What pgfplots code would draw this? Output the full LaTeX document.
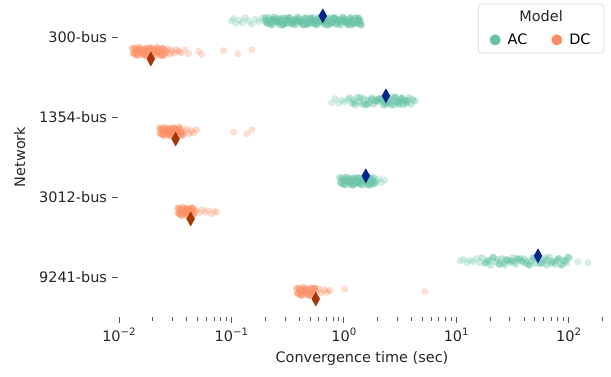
\documentclass[border=0pt]{standalone}
\usepackage{fontspec}
\setmainfont{DejaVu Sans}
\usepackage{pgfplots}
\pgfplotsset{compat=1.18}
\definecolor{acgreen}{RGB}{102,194,165}
\definecolor{dcorange}{RGB}{252,141,98}
\definecolor{acdark}{RGB}{3,35,140}
\definecolor{dcdark}{RGB}{166,54,3}
\newcommand\pw[1]{10\raisebox{0.42em}{\fontsize{10.2}{12}\selectfont #1}}
\pgfplotsset{
  pts/.style n args={2}{only marks, mark=*, mark size=3.6bp, mark options={draw opacity=0, fill=#1, fill opacity=#2}, forget plot},
}
\begin{document}
\fontsize{14.5}{17.4}\selectfont
\begin{tikzpicture}
\begin{axis}[
  name=ax,
  scale only axis, width=488bp, height=320bp,
  xmode=log, xmin=0.0098, xmax=215,
  ymin=-0.5, ymax=3.5, y dir=reverse,
  axis x line*=bottom, axis y line*=left,
  axis line style={draw=none,-},
  tick align=outside,
  major tick length=6bp, minor tick length=3.5bp,
  tick style={black!65, line width=0.8bp},
  xtick={0.01,0.1,1,10,100},
  xticklabels={\pw{−2},\pw{−1},\pw{0},\pw{1},\pw{2}},
  minor xtick={0.02,0.03,0.04,0.05,0.06,0.07,0.08,0.09,0.2,0.3,0.4,0.5,0.6,0.7,0.8,0.9,2,3,4,5,6,7,8,9,20,30,40,50,60,70,80,90,200},
  ytick={0,1,2,3},
  yticklabels={300-bus,1354-bus,3012-bus,9241-bus},
  minor ytick={},
  ticklabel style={text=black!85},
  xlabel={Convergence time (sec)},
  ylabel={Network},
  ylabel style={yshift=4bp},
  label style={text=black!85},
  legend columns=2,
  legend style={draw=none, fill=none, at={(axis description cs:0.867,0.866)}, anchor=center,
    /tikz/every odd column/.append style={column sep=5bp},
    /tikz/every even column/.append style={column sep=22bp}},
  legend cell align=left,
  clip=false,
]
% frame and title of the legend
\draw[black!15, fill=white, rounded corners=3bp, line width=0.8bp] (axis description cs:0.738,0.825) rectangle (axis description cs:0.996,0.978);
\node[text=black!85] at (axis description cs:0.867,0.941) {Model};
\addlegendimage{only marks, mark=*, mark size=5.5bp, mark options={draw opacity=0, fill=acgreen}}
\addlegendentry{AC}
\addlegendimage{only marks, mark=*, mark size=5.5bp, mark options={draw opacity=0, fill=dcorange}}
\addlegendentry{DC}

% ================= 300-bus
% AC core
\addplot[pts={acgreen}{0.5}] coordinates {
(0.200,-0.24)(0.209,-0.17)(0.219,-0.21)(0.229,-0.15)(0.240,-0.25)(0.251,-0.19)(0.263,-0.16)(0.275,-0.23)(0.288,-0.15)(0.302,-0.21)
(0.316,-0.18)(0.331,-0.24)(0.347,-0.16)(0.363,-0.22)(0.380,-0.20)(0.398,-0.23)(0.417,-0.19)(0.437,-0.15)(0.457,-0.24)(0.479,-0.17)
(0.501,-0.24)(0.525,-0.17)(0.550,-0.21)(0.575,-0.15)(0.603,-0.25)(0.631,-0.19)(0.661,-0.16)(0.692,-0.23)(0.724,-0.15)(0.759,-0.21)
(0.794,-0.18)(0.832,-0.24)(0.871,-0.16)(0.912,-0.22)(0.955,-0.20)(1.000,-0.23)(1.047,-0.19)(1.096,-0.15)(1.148,-0.24)(1.202,-0.17)
(1.259,-0.24)(1.318,-0.17)(1.380,-0.21)(1.430,-0.15)
(0.204,-0.18)(0.214,-0.24)(0.224,-0.16)(0.234,-0.22)(0.245,-0.20)(0.257,-0.23)(0.269,-0.19)(0.282,-0.15)(0.295,-0.24)(0.309,-0.17)
(0.324,-0.24)(0.339,-0.17)(0.355,-0.21)(0.372,-0.15)(0.389,-0.25)(0.407,-0.19)(0.427,-0.16)(0.447,-0.23)(0.468,-0.15)(0.490,-0.21)
(0.513,-0.18)(0.537,-0.24)(0.562,-0.16)(0.589,-0.22)(0.617,-0.20)(0.646,-0.23)(0.676,-0.19)(0.708,-0.15)(0.741,-0.24)(0.776,-0.17)
(0.813,-0.24)(0.851,-0.17)(0.891,-0.21)(0.933,-0.15)(0.977,-0.25)(1.023,-0.19)(1.072,-0.16)(1.122,-0.23)(1.175,-0.15)(1.230,-0.21)
(1.288,-0.18)(1.349,-0.24)(1.410,-0.16)
(0.206,-0.20)(0.221,-0.18)(0.238,-0.22)(0.254,-0.19)(0.272,-0.21)(0.292,-0.17)(0.313,-0.23)(0.335,-0.20)(0.359,-0.18)(0.385,-0.22)
(0.412,-0.19)(0.442,-0.21)(0.473,-0.17)(0.507,-0.23)(0.543,-0.20)(0.582,-0.18)(0.623,-0.22)(0.668,-0.19)(0.715,-0.21)(0.766,-0.17)
(0.821,-0.23)(0.880,-0.20)(0.942,-0.18)(1.010,-0.22)(1.082,-0.19)(1.159,-0.21)(1.241,-0.17)(1.330,-0.23)(1.400,-0.20)
};
% AC tail
\addplot[pts={acgreen}{0.28}] coordinates {
(0.100,-0.20)(0.105,-0.23)(0.110,-0.17)(0.118,-0.21)(0.125,-0.18)(0.133,-0.24)(0.142,-0.20)(0.152,-0.16)(0.163,-0.22)(0.175,-0.19)
(0.188,-0.24)(0.195,-0.21)
};
% DC core
\addplot[pts={dcorange}{0.5}] coordinates {
(0.01318,0.14)(0.01365,0.21)(0.01413,0.17)(0.01462,0.23)(0.01514,0.13)(0.01567,0.19)(0.01622,0.22)(0.01679,0.15)(0.01738,0.23)(0.01799,0.17)
(0.01862,0.20)(0.01928,0.14)(0.01995,0.22)(0.02065,0.16)(0.02138,0.18)(0.02213,0.15)(0.02291,0.19)(0.02371,0.23)(0.02455,0.14)(0.02541,0.21)
(0.0134,0.20)(0.0139,0.14)(0.0144,0.22)(0.0149,0.16)(0.0154,0.18)(0.0159,0.15)(0.0165,0.19)(0.0171,0.23)(0.0177,0.14)(0.0183,0.21)
(0.0190,0.14)(0.0196,0.21)(0.0203,0.17)(0.0210,0.23)(0.0218,0.13)(0.0225,0.19)(0.0233,0.22)(0.0241,0.15)(0.0250,0.23)(0.0258,0.17)
};
% DC semi
\addplot[pts={dcorange}{0.35}] coordinates {
(0.0265,0.19)(0.0275,0.15)(0.0285,0.21)(0.0295,0.17)(0.0310,0.20)(0.0325,0.16)(0.0340,0.18)(0.0355,0.20)
};
% DC tail
\addplot[pts={dcorange}{0.28}] coordinates {
(0.0384,0.16)(0.0417,0.21)(0.0512,0.18)(0.0544,0.22)(0.0854,0.17)(0.1138,0.21)(0.1517,0.16)
};

% ================= 1354-bus
\addplot[pts={acgreen}{0.28}] coordinates {
(0.78,0.82)(0.84,0.77)(0.90,0.83)(0.96,0.79)(1.02,0.81)(1.08,0.78)
};
\addplot[pts={acgreen}{0.4}] coordinates {
(1.13,0.76)(1.18,0.83)(1.22,0.79)(1.27,0.85)(1.33,0.75)(1.38,0.81)(1.45,0.84)(1.50,0.77)(1.57,0.85)(1.63,0.79)
(1.70,0.82)(1.78,0.76)(1.85,0.84)(1.92,0.78)(2.00,0.80)(2.08,0.77)(2.15,0.81)(2.24,0.85)(2.33,0.76)(2.42,0.83)
(2.50,0.76)(2.60,0.83)(2.70,0.79)(2.80,0.85)(2.90,0.75)(3.00,0.81)(3.12,0.84)(3.25,0.77)(3.38,0.85)(3.50,0.79)
(3.65,0.82)(3.80,0.76)(3.95,0.84)(4.10,0.78)(4.28,0.80)
(1.25,0.82)(1.40,0.76)(1.55,0.84)(1.75,0.78)(1.95,0.80)(2.20,0.77)(2.45,0.81)(2.65,0.85)(2.85,0.76)(3.05,0.83)
(3.30,0.76)(3.55,0.83)(3.70,0.79)(2.35,0.85)(2.75,0.75)(3.15,0.81)(1.65,0.84)(2.05,0.77)
(1.90,0.80)(2.10,0.78)(2.30,0.82)(2.55,0.79)(2.95,0.81)(3.20,0.77)(3.45,0.80)
};
\addplot[pts={dcorange}{0.5}] coordinates {
(0.0230,1.14)(0.0237,1.21)(0.0243,1.17)(0.0250,1.23)(0.0257,1.13)(0.0264,1.19)(0.0272,1.22)(0.0279,1.15)(0.0287,1.23)
(0.0295,1.17)(0.0303,1.20)(0.0312,1.14)(0.0321,1.22)(0.0330,1.16)(0.0339,1.18)(0.0348,1.15)(0.0358,1.19)(0.0368,1.23)
(0.0233,1.20)(0.0240,1.14)(0.0247,1.22)(0.0253,1.16)(0.0260,1.18)(0.0268,1.15)(0.0275,1.19)(0.0283,1.23)(0.0291,1.14)
(0.0299,1.21)(0.0308,1.14)(0.0316,1.21)(0.0325,1.17)(0.0334,1.23)(0.0344,1.13)(0.0353,1.19)(0.0363,1.22)
};
\addplot[pts={dcorange}{0.35}] coordinates {
(0.0380,1.19)(0.0400,1.15)(0.0420,1.21)(0.0440,1.17)(0.0460,1.20)(0.0490,1.16)
};
\addplot[pts={dcorange}{0.28}] coordinates {
(0.105,1.19)(0.137,1.21)(0.152,1.16)
};

% ================= 3012-bus
\addplot[pts={acgreen}{0.5}] coordinates {
(0.920,1.76)(0.953,1.83)(0.986,1.79)(1.021,1.85)(1.057,1.75)(1.094,1.81)(1.132,1.84)(1.172,1.77)(1.213,1.85)(1.256,1.79)(1.300,1.82)
(1.346,1.76)(1.393,1.84)(1.442,1.78)(1.493,1.80)(1.545,1.77)(1.600,1.81)(1.656,1.85)(1.714,1.76)(1.774,1.83)(1.837,1.76)(1.888,1.83)
(0.936,1.82)(0.970,1.76)(1.004,1.84)(1.039,1.78)(1.075,1.80)(1.113,1.77)(1.152,1.81)(1.192,1.85)(1.234,1.76)(1.278,1.83)(1.323,1.76)
(1.369,1.83)(1.417,1.79)(1.467,1.85)(1.519,1.75)(1.572,1.81)(1.627,1.84)(1.685,1.77)(1.744,1.85)(1.805,1.79)(1.860,1.82)
};
\addplot[pts={acgreen}{0.28}] coordinates {
(1.95,1.80)(2.05,1.77)(2.15,1.82)(2.30,1.79)
};
\addplot[pts={dcorange}{0.5}] coordinates {
(0.0333,2.14)(0.0342,2.21)(0.0352,2.17)(0.0361,2.23)(0.0372,2.13)(0.0382,2.19)(0.0393,2.22)(0.0404,2.15)(0.0415,2.23)(0.0427,2.17)
(0.0439,2.20)(0.0451,2.14)(0.0463,2.22)
(0.0337,2.20)(0.0347,2.14)(0.0357,2.22)(0.0366,2.16)(0.0377,2.18)(0.0387,2.15)(0.0398,2.19)(0.0409,2.23)(0.0421,2.14)(0.0433,2.21)
(0.0445,2.14)(0.0457,2.21)(0.0469,2.17)
};
\addplot[pts={dcorange}{0.28}] coordinates {
(0.049,2.17)(0.052,2.20)(0.055,2.16)(0.058,2.19)(0.062,2.17)(0.066,2.21)(0.071,2.18)(0.074,2.19)
};

% ================= 9241-bus
\addplot[pts={acgreen}{0.28}] coordinates {
(10.8,2.80)(11.6,2.78)(12.4,2.82)(13.3,2.79)(14.2,2.81)(15.2,2.77)(16.2,2.82)
(121,2.81)(149,2.82)
};
\addplot[pts={acgreen}{0.4}] coordinates {
(16.98,2.76)(17.99,2.83)(19.05,2.79)(20.18,2.85)(21.38,2.75)(22.65,2.81)(23.99,2.84)(25.41,2.77)(26.92,2.85)(28.51,2.79)
(30.20,2.82)(31.99,2.76)(33.88,2.84)(35.89,2.78)(38.02,2.80)(40.27,2.77)(42.66,2.81)(45.19,2.85)(47.86,2.76)(50.70,2.83)
(53.70,2.76)(56.89,2.83)(60.26,2.79)(63.83,2.85)(67.61,2.75)(71.61,2.81)(75.86,2.84)(80.35,2.77)(85.11,2.85)(90.16,2.79)
(95.50,2.82)(101.2,2.76)
(18.5,2.82)(21.0,2.76)(24.5,2.84)(27.7,2.78)(31.0,2.80)(34.9,2.77)(39.1,2.81)(44.0,2.85)(49.3,2.76)(55.3,2.83)
(62.0,2.76)(69.5,2.83)(78.0,2.79)(87.5,2.85)(98.0,2.75)
(19.6,2.80)(23.2,2.78)(26.2,2.82)(29.3,2.79)(32.9,2.81)(36.9,2.77)(41.4,2.83)(46.5,2.80)(52.2,2.78)(58.6,2.82)
(65.7,2.79)(73.7,2.81)(82.7,2.77)(92.8,2.80)
};
\addplot[pts={dcorange}{0.5}] coordinates {
(0.381,3.14)(0.394,3.21)(0.408,3.17)(0.423,3.23)(0.438,3.13)(0.453,3.19)(0.469,3.22)(0.485,3.15)(0.502,3.23)(0.520,3.17)
(0.538,3.20)(0.552,3.14)
(0.387,3.20)(0.401,3.14)(0.415,3.22)(0.430,3.16)(0.445,3.18)(0.461,3.15)(0.477,3.19)(0.494,3.23)(0.511,3.14)(0.529,3.21)(0.545,3.14)
};
\addplot[pts={dcorange}{0.35}] coordinates {
(0.57,3.18)(0.60,3.15)(0.63,3.20)(0.67,3.16)(0.71,3.19)(0.75,3.17)
};
\addplot[pts={dcorange}{0.28}] coordinates {
(1.02,3.15)(5.26,3.18)
};

% ================= means
\addplot[only marks, mark=diamond*, mark size=7bp, mark options={xscale=0.75, fill=acdark, draw=acdark}, forget plot]
  coordinates {(0.65,-0.265)(2.37,0.735)(1.57,1.735)(53.4,2.735)};
\addplot[only marks, mark=diamond*, mark size=7bp, mark options={xscale=0.75, fill=dcdark, draw=dcdark}, forget plot]
  coordinates {(0.0192,0.275)(0.0319,1.275)(0.0434,2.275)(0.563,3.275)};
\end{axis}
\pgfresetboundingbox
\path ([shift={(-118bp,-59bp)}]ax.south west) rectangle ([shift={(5bp,-3bp)}]ax.north east);
\end{tikzpicture}
\end{document}
